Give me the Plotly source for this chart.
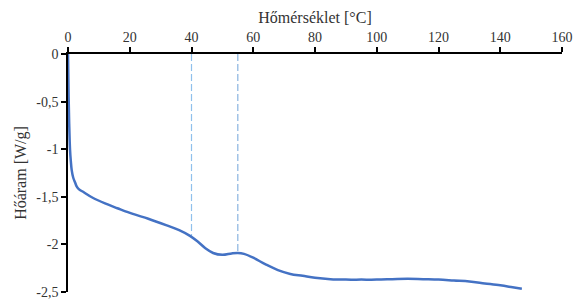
import plotly.graph_objects as go

temp = [0, 0.2, 0.4, 0.65, 0.9, 1.2, 1.7, 2.3, 2.8, 3.5, 5, 8, 12, 16, 21, 26, 32, 36, 39.5, 42, 44.5, 47,
        50, 53, 55, 57, 60, 64, 68, 72, 76, 80, 85, 90, 95, 100, 105, 110, 115, 120, 125, 130, 135, 140, 144, 147]
heat = [0, -0.45, -0.75, -1.0, -1.12, -1.22, -1.3, -1.35, -1.39, -1.42, -1.45, -1.51, -1.57, -1.62, -1.68,
        -1.73, -1.80, -1.85, -1.91, -1.97, -2.04, -2.09, -2.11, -2.095, -2.09, -2.10, -2.14, -2.21, -2.27,
        -2.31, -2.33, -2.35, -2.365, -2.37, -2.37, -2.37, -2.365, -2.36, -2.365, -2.37, -2.38, -2.39, -2.41,
        -2.43, -2.45, -2.465]

marker_x = [40, 55]
marker_y = [-1.92, -2.09]
marker_colors = ["#8FC0EC", "#8AB4E0"]

x_ticks = [0, 20, 40, 60, 80, 100, 120, 140, 160]
y_ticks = [0, -0.5, -1, -1.5, -2, -2.5]
y_ticktext = ["0", "-0,5", "-1", "-1,5", "-2", "-2,5"]

fig = go.Figure()
for mx, my, c in zip(marker_x, marker_y, marker_colors):
    fig.add_trace(go.Scatter(x=[mx, mx], y=[0, my], mode="lines",
                             line=dict(color=c, width=1.2, dash="7px,3px"), showlegend=False, hoverinfo="skip"))
fig.add_trace(go.Scatter(x=temp, y=heat, mode="lines", line=dict(color="#4472C4", width=2.5, shape="spline"),
                         showlegend=False))

font = "Liberation Serif"
tf = dict(family=font, size=14, color="#333333")
fig.update_layout(
    width=575, height=301,
    margin=dict(l=68, r=13, t=54, b=9),
    paper_bgcolor="white", plot_bgcolor="white",
    font=dict(family=font, size=14, color="#333333"),
    xaxis=dict(side="top", range=[0, 160], tickvals=x_ticks, showgrid=False, zeroline=False,
               showline=True, linecolor="black", linewidth=1.5, ticks="outside", ticklen=5,
               tickcolor="black", tickwidth=1.5, automargin=False, tickfont=tf,
               title=dict(text="Hőmérséklet [°C]", font=dict(size=16, family=font, color="#333333"), standoff=2)),
    yaxis=dict(range=[-2.5, 0], tickvals=y_ticks, ticktext=y_ticktext, showgrid=False, zeroline=False,
               showline=True, linecolor="black", linewidth=1.5, ticks="outside", ticklen=5,
               tickcolor="black", tickwidth=1.5, automargin=False, tickfont=tf,
               title=dict(text="Hőáram [W/g]", font=dict(size=16, family=font, color="#333333"), standoff=6)),
)
fig.write_html("out.html", config={"displayModeBar": False},
               post_script="document.body.style.margin='0';document.body.style.overflow='hidden';")
